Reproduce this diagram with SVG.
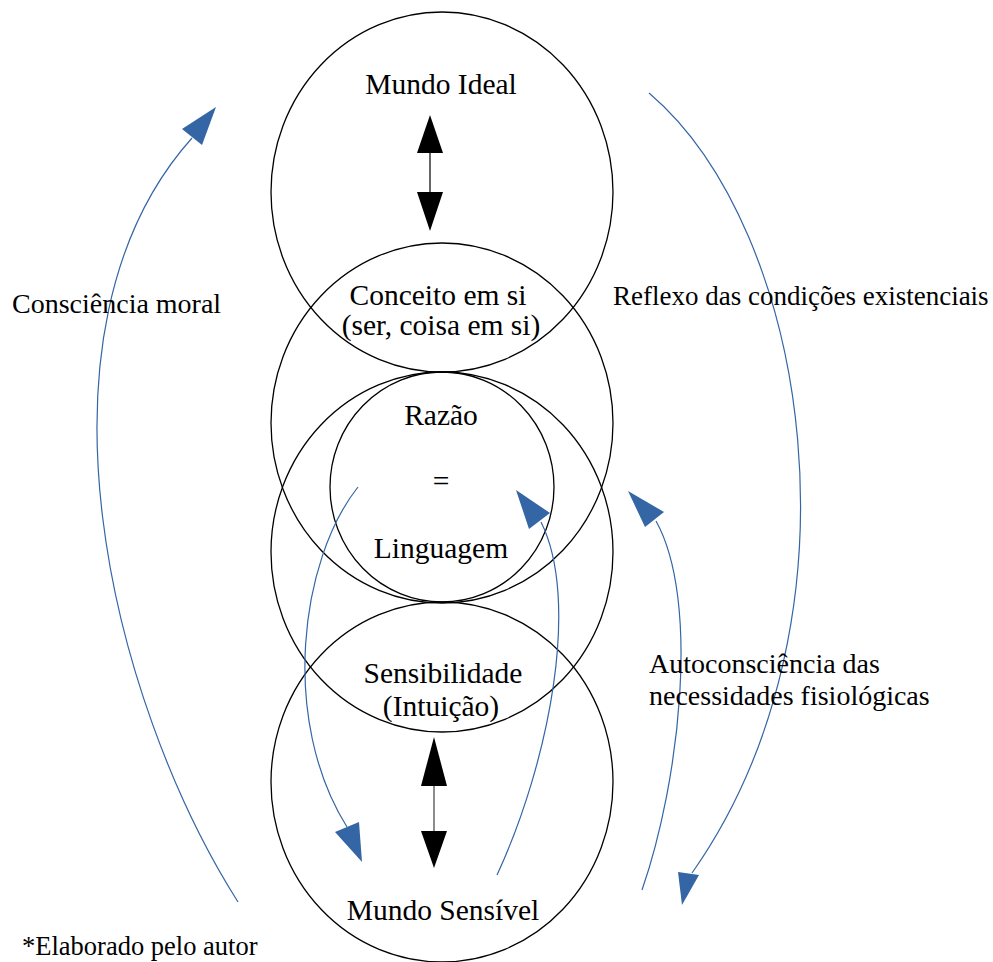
<svg xmlns="http://www.w3.org/2000/svg" width="993" height="962" viewBox="0 0 993 962">
<style>
.c{fill:none;stroke:#000;stroke-width:1.3}
.t{font-size:28px;fill:#000}
.m{text-anchor:middle;font-size:29.5px}
.b{fill:none;stroke:#3465a4;stroke-width:1.2}
.bh{fill:#3465a4;stroke:none}
.k{fill:#000}
</style>
<rect width="993" height="962" fill="#fff"/>
<g id="circles">
<g id="mundo-ideal"><ellipse class="c" cx="442" cy="192" rx="171" ry="180"/></g>
<g id="conceito"><ellipse class="c" cx="442" cy="423" rx="171" ry="180"/></g>
<g id="sensibilidade"><ellipse class="c" cx="442" cy="552" rx="171" ry="180"/></g>
<g id="mundo-sensivel"><ellipse class="c" cx="442" cy="782" rx="171" ry="180"/></g>
<g id="razao"><ellipse class="c" cx="442" cy="487" rx="112" ry="115"/></g>
</g>
<g id="connectors">
<line x1="430" y1="153" x2="430" y2="193" stroke="#333" stroke-width="1.5"/>
<polygon class="k" points="430,115 417,153 443,153"/>
<polygon class="k" points="417,192 443,192 430,231"/>
<line x1="434" y1="786" x2="434" y2="831" stroke="#666" stroke-width="1.5"/>
<polygon class="k" points="434,737 421,786 447,786"/>
<polygon class="k" points="421,831 447,831 434,868"/>
<path class="b" d="M238,902 C110,700 20,330 192,138"/>
<polygon class="bh" points="216,107 182,129 202,145"/>
<path class="b" d="M649,93 C810,230 870,620 692,873"/>
<polygon class="bh" points="678,872 699,875 682,905"/>
<path class="b" d="M642,890 C680,780 700,600 656,521"/>
<polygon class="bh" points="628,491 664,512 645,527"/>
<path class="b" d="M358,487 C300,560 280,720 347,827"/>
<polygon class="bh" points="335,832 359,822 362,862"/>
<path class="b" d="M497,875 C550,760 580,600 541,522"/>
<polygon class="bh" points="516,490 550,513 529,529"/>
</g>
<g id="labels" font-family="'Liberation Serif', 'DejaVu Serif', serif">
<text class="t m" x="441" y="94">Mundo Ideal</text>
<text class="t m" x="438" y="305">Conceito em si</text>
<text class="t m" x="441" y="335">(ser, coisa em si)</text>
<text class="t m" x="441" y="425">Razão</text>
<text class="t m" x="441" y="491">=</text>
<text class="t m" x="441" y="558">Linguagem</text>
<text class="t m" x="443" y="683">Sensibilidade</text>
<text class="t m" x="441" y="716">(Intuição)</text>
<text class="t m" x="443" y="920">Mundo Sensível</text>
<text class="t" x="12" y="313">Consciência moral</text>
<text class="t" x="613" y="305" style="font-size:27px">Reflexo das condições existenciais</text>
<text class="t" x="649" y="673">Autoconsciência das</text>
<text class="t" x="649" y="705">necessidades fisiológicas</text>
<text class="t" x="22" y="955" style="font-size:26.5px">*Elaborado pelo autor</text>
</g>
</svg>
